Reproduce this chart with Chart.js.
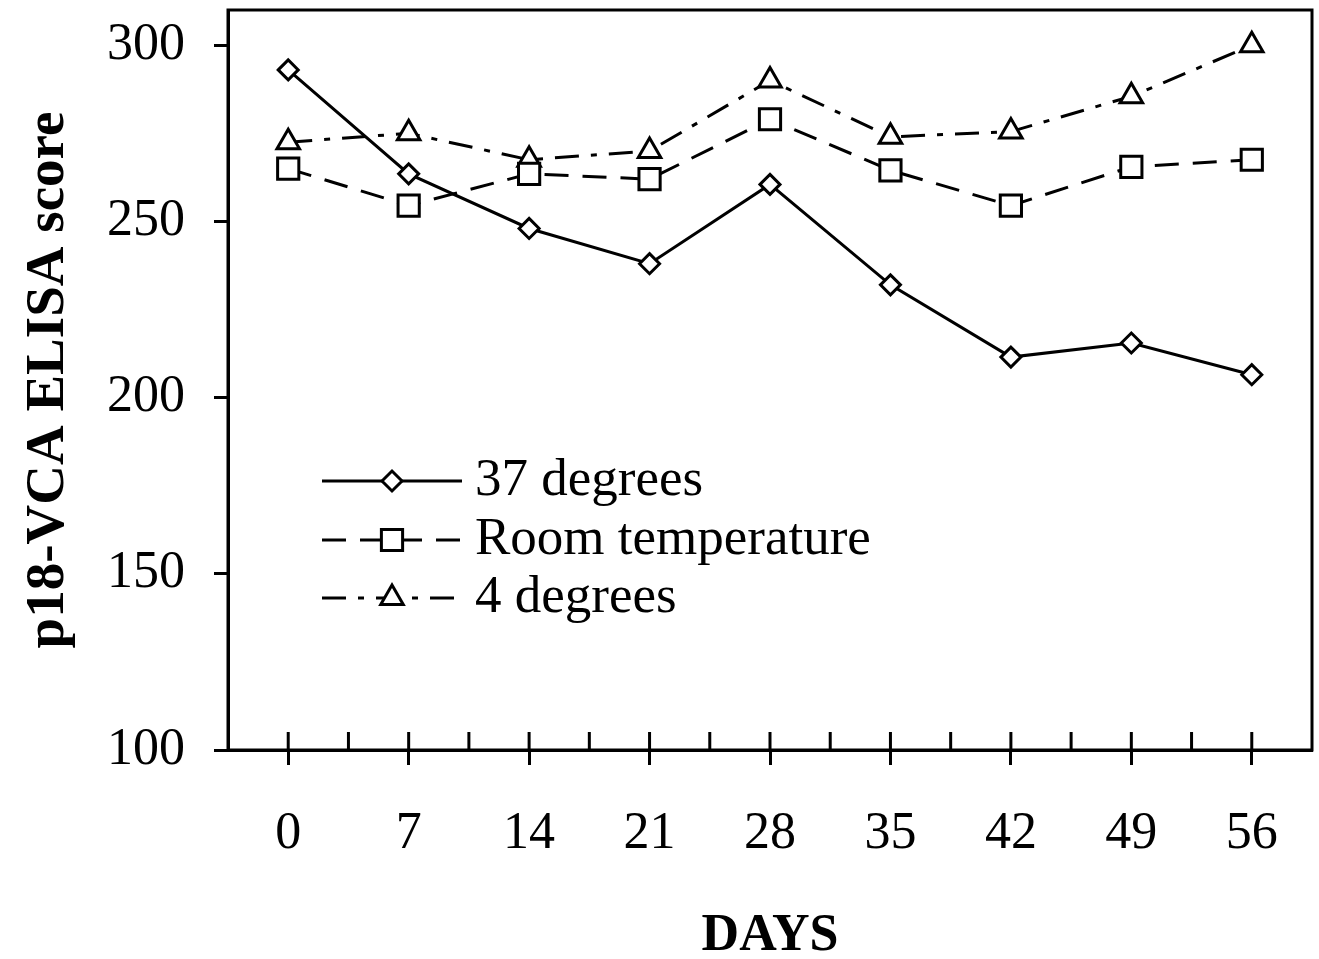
<!DOCTYPE html>
<html>
<head>
<meta charset="utf-8">
<script src="https://cdn.jsdelivr.net/npm/chart.js@4.4.1/dist/chart.umd.min.js"></script>
<style>
  body { margin: 0; background: #fff; }
  canvas { display: block; }
</style>
</head>
<body>
<canvas id="grafico" width="1319" height="959"></canvas>
<script>
// Dados
const dias = [0, 7, 14, 21, 28, 35, 42, 49, 56];
const graus37 = [293, 263.5, 248, 238, 260.5, 232, 211.5, 215.5, 206.5];
const ambiente = [265, 254.5, 263.5, 262, 279, 264.5, 254.5, 265.5, 267.5];
const graus4 = [272.5, 275, 267.5, 270, 290, 274, 275.5, 285.5, 300];
const nomes = ["37 degrees", "Room temperature", "4 degrees"];
const ticksY = [100, 150, 200, 250, 300];

const serif = "'Liberation Serif', 'DejaVu Serif', serif";

function pontos(valores) {
    return dias.map((d, i) => ({ x: d, y: valores[i] }));
}

// Moldura, ticks internos e legenda dentro do gráfico
const extras = {
    id: "extras",
    afterDraw(chart) {
        const ctx = chart.ctx;
        const area = chart.chartArea;
        const x = chart.scales.x;
        ctx.save();
        ctx.strokeStyle = "#000";
        ctx.lineWidth = 3;
        ctx.strokeRect(area.left, area.top, area.right - area.left, area.bottom - area.top);

        x.ticks.forEach((t) => {
            if (t.value <= x.min || t.value >= x.max) return;
            const px = x.getPixelForValue(t.value);
            ctx.beginPath();
            ctx.moveTo(px, area.bottom);
            ctx.lineTo(px, area.bottom - 18);
            ctx.stroke();
        });

        // legenda
        const linhas = [481, 540, 598];
        chart.data.datasets.forEach((ds, i) => {
            const y = linhas[i];
            ctx.strokeStyle = "#000";
            ctx.lineWidth = 3;
            ctx.setLineDash(ds.borderDash || []);
            ctx.beginPath();
            ctx.moveTo(322, y);
            ctx.lineTo(462, y);
            ctx.stroke();
            ctx.setLineDash([]);
            ctx.fillStyle = "#fff";
            Chart.helpers.drawPoint(ctx, {
                pointStyle: ds.pointStyle,
                radius: ds.pointRadius,
                borderWidth: 3,
                rotation: 0
            }, 392, y);
            ctx.fillStyle = "#000";
            ctx.font = "53px " + serif;
            ctx.textBaseline = "middle";
            ctx.textAlign = "left";
            ctx.fillText(nomes[i], 475, y);
        });
        ctx.restore();
    }
};

new Chart("grafico", {
    type: "line",
    data: {
        datasets: [
            {
                label: nomes[0],
                data: pontos(graus37),
                borderColor: "#000",
                borderWidth: 3,
                pointStyle: "rectRot",
                pointRadius: 10,
                pointBackgroundColor: "#fff",
                pointBorderColor: "#000",
                pointBorderWidth: 3,
                borderDash: []
            },
            {
                label: nomes[1],
                data: pontos(ambiente),
                borderColor: "#000",
                borderWidth: 3,
                borderDash: [24, 14],
                pointStyle: "rect",
                pointRadius: 15,
                pointBackgroundColor: "#fff",
                pointBorderColor: "#000",
                pointBorderWidth: 3
            },
            {
                label: nomes[2],
                data: pontos(graus4),
                borderColor: "#000",
                borderWidth: 3,
                borderDash: [24, 12, 6, 12],
                pointStyle: "triangle",
                pointRadius: 13,
                pointBackgroundColor: "#fff",
                pointBorderColor: "#000",
                pointBorderWidth: 3
            }
        ]
    },
    options: {
        responsive: false,
        animation: false,
        layout: { autoPadding: false, padding: { top: 10, right: 7, left: 0, bottom: 0 } },
        plugins: {
            legend: { display: false },
            tooltip: { enabled: false }
        },
        scales: {
            x: {
                type: "linear",
                min: -3.5,
                max: 59.5,
                ticks: {
                    stepSize: 3.5,
                    autoSkip: false,
                    maxRotation: 0,
                    padding: 38,
                    color: "#000",
                    font: { family: serif, size: 52 },
                    callback: (v) => (v % 7 === 0 && v >= 0 && v <= 56 ? v : "")
                },
                grid: {
                    drawOnChartArea: false,
                    tickLength: 15,
                    tickWidth: 3,
                    tickColor: (c) => (c.tick && c.tick.value % 7 === 0 && c.tick.value >= 0 ? "#000" : "rgba(0,0,0,0)")
                },
                border: { color: "#000", width: 3 },
                title: {
                    display: true,
                    text: "DAYS",
                    color: "#000",
                    font: { family: serif, size: 52, weight: "bold", lineHeight: 0.85 },
                    padding: { top: 0, bottom: 0 }
                },
                afterFit(scale) {
                    scale.height = 209;
                    scale.paddingLeft = 0;
                    scale.paddingRight = 0;
                }
            },
            y: {
                min: 100,
                max: 310,
                afterBuildTicks(scale) {
                    scale.ticks = ticksY.map((v) => ({ value: v }));
                },
                ticks: {
                    padding: 29,
                    color: "#000",
                    font: { family: serif, size: 52 }
                },
                grid: {
                    drawOnChartArea: false,
                    tickLength: 14,
                    tickWidth: 3,
                    tickColor: "#000"
                },
                border: { color: "#000", width: 3 },
                title: {
                    display: true,
                    text: "p18-VCA ELISA score",
                    color: "#000",
                    font: { family: serif, size: 55, weight: "bold", lineHeight: 1 },
                    padding: { top: 21, bottom: 0 }
                },
                afterFit(scale) {
                    scale.width = 228;
                    scale.paddingTop = 0;
                    scale.paddingBottom = 0;
                }
            }
        }
    },
    plugins: [extras]
});
</script>
</body>
</html>
